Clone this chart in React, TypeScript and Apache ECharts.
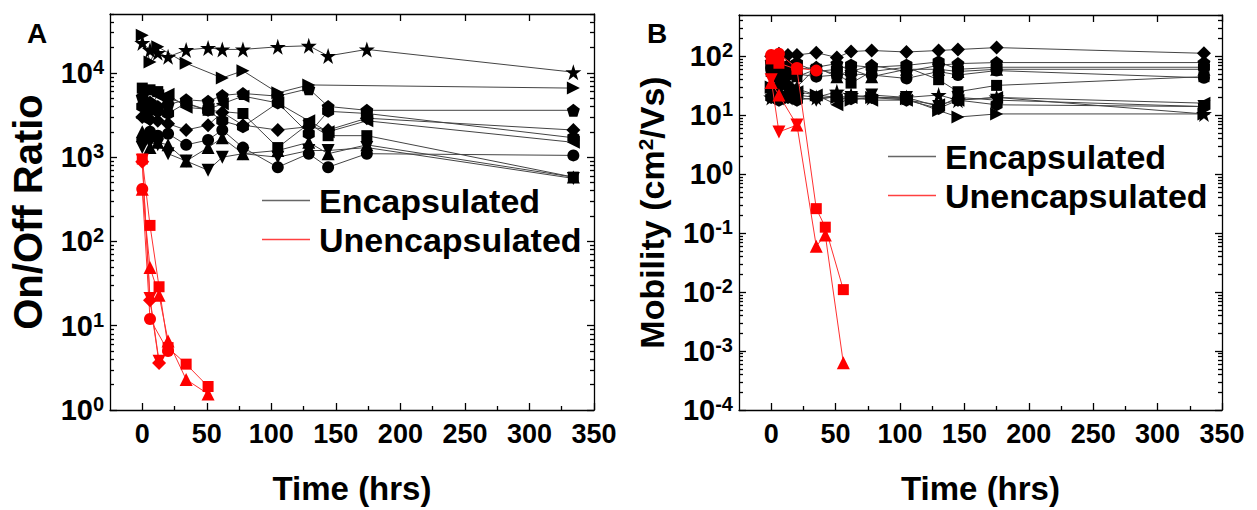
import React, { useEffect, useRef } from 'react';
import * as echarts from 'echarts';

const FONT = '"Liberation Sans", Arial, sans-serif';

// ---------- Panel A : On/Off ratio ----------
const timesEncA = [0, 6, 12, 20, 34, 51, 62, 78, 105, 129, 144, 174, 334];
const encA_star = [22700, 18700, 17300, 15500, 18700, 19800, 19000, 19000, 20400, 21000, 15900, 19000, 10200];
const encA_triRight = [28000, 13500, 20400, null, 13000, null, 8700, 10600, 5800, 7200, null, null, 6600];
const encA_square = [6600, 6300, 6000, 5000, null, 3600, null, 3300, 1300, 2500, 1800, 1800, 580];
const encA_pentagon = [5200, 4500, 4000, 4200, 4800, 4600, 5400, 5700, 5300, 6500, 4000, 3600, 3600];
const encA_diamond = [3000, 2800, 2700, 2500, 2100, 2400, 3400, 2400, 2100, 2300, 2100, 2900, 2100];
const encA_hexagon = [4000, 3600, 3500, 3300, 4400, 3600, 2700, 2300, 4400, 1900, 3500, 3300, 1700];
const encA_circle = [1600, 2000, 1800, 1900, 1400, 1600, 2100, 1300, 760, 1100, 760, 1100, 1050];
const encA_triUp = [2000, 1300, 1500, 1400, 900, 1300, 1700, 1100, 1200, 1500, 1100, 1400, 580];
const encA_triDown = [1300, 1500, 1400, 1100, 900, 700, 1000, 1100, 1000, 1200, 1200, 1300, 560];
const encA_triLeft = [2900, 4000, 5400, 5600, 3900, 3700, 4300, 5300, 4400, 2700, 2000, 2700, 1500];

const timesUnA = [0, 6, 13, 20, 34, 51];
const unA_square = [950, 155, 29, 5.5, 3.5, 1.9];
const unA_triUp = [415, 49, 23, 6.6, 2.3, 1.55];
const unA_triDown = [920, 21, 3.8, null, null, null];
const unA_circle = [420, 12, null, 5, null, null];
const unA_diamond = [880, 20, 3.6, null, null, null];

// ---------- Panel B : Mobility ----------
const timesEncB = [0, 6, 13, 20, 35, 51, 62, 78, 105, 130, 145, 175, 336];
const encB_diamond = [100, 110, 105, 105, 115, 95, 120, 125, 118, 125, 130, 140, 112];
const encB_square = [55, 45, 50, 45, 60, 50, 35, 55, 65, 40, 25, 32, 45];
const encB_hexagon = [70, 65, 60, 75, 55, 60, 70, 65, 70, 80, 60, 65, 65];
const encB_pentagon = [80, 75, 70, 60, 65, 75, 55, 70, 55, 70, 75, 78, 78];
const encB_circle = [60, 55, 48, 50, 45, 48, 50, 48, 42, 55, 48, 57, 43];
const encB_triUp = [30, 40, 35, 30, 65, 45, 60, 45, 60, 60, 55, 60, 60];
const encB_star = [20, 22, 20, 22, 20, 25, 22, 20, 20, 22, 18, 20, 10.5];
const encB_triLeft = [25, 20, 22, 25, 22, 15, 20, 18, 18, 15, 18, 20, 16];
const encB_triDown = [22, 25, 24, 20, 18, 21, 20, 22, 20, 14, 20, 18, 14];
const encB_triRight = [30, 25, 35, 28, 22, 20, 18, 20, 19, 12, 9.3, 10.5, 10.5];
const encB_hexLow = [20, 18, 20, 18, 20, 20, 19, 20, 18, 13, 18, 15, 14];

const timesUnB = [0, 6, 20, 35, 42, 56];
const unB_square = [90, 76, 60, 0.26, 0.126, 0.011];
const unB_triUp = [36, 22, 6.8, 0.06, 0.093, 0.00063];
const unB_triDown = [40, 5.2, 6.8, null, null, null];
const unB_circle = [105, 110, 63, 57, null, null];

const xMajor = [0, 50, 100, 150, 200, 250, 300, 350];
const xMinor = [25, 75, 125, 175, 225, 275, 325];

const STAR = 'path://M0,-10 L2.245,-3.09 L9.51,-3.09 L3.633,1.18 L5.88,8.09 L0,3.82 L-5.88,8.09 L-3.633,1.18 L-9.51,-3.09 L-2.245,-3.09 Z';
const PENT = 'path://M0,-10 L9.51,-3.09 L5.88,8.09 L-5.88,8.09 L-9.51,-3.09 Z';
const HEX = 'path://M0,-10 L8.66,-5 L8.66,5 L0,10 L-8.66,5 L-8.66,-5 Z';

const SHAPES: Record<string, { symbol: string; rotate: number; size: number | number[] }> = {
  star: { symbol: STAR, rotate: 0, size: 16 },
  pentagon: { symbol: PENT, rotate: 0, size: 13 },
  hexagon: { symbol: HEX, rotate: 0, size: [12, 13] },
  square: { symbol: 'rect', rotate: 0, size: 11 },
  circle: { symbol: 'circle', rotate: 0, size: 12 },
  diamond: { symbol: 'diamond', rotate: 0, size: 14 },
  triUp: { symbol: 'triangle', rotate: 0, size: 13 },
  triDown: { symbol: 'triangle', rotate: 180, size: 13 },
  triLeft: { symbol: 'triangle', rotate: 90, size: 13 },
  triRight: { symbol: 'triangle', rotate: -90, size: 13 },
};

function majors(lo: number, hi: number) {
  const out: number[] = [];
  for (let e = lo; e <= hi; e++) out.push(Math.pow(10, e));
  return out;
}
function minors(lo: number, hi: number, max: number) {
  const out: number[] = [];
  for (let e = lo; e <= hi; e++) {
    for (let k = 2; k <= 9; k++) {
      const v = k * Math.pow(10, e);
      if (v <= max * 1.0001) out.push(v);
    }
  }
  return out;
}

const labelRich = {
  base: { fontSize: 29, fontWeight: 'bold', fontFamily: FONT, color: '#000', lineHeight: 32 },
  sup: { fontSize: 20, fontWeight: 'bold', fontFamily: FONT, color: '#000', verticalAlign: 'top', lineHeight: 21 },
};

function series(name: string, times: number[], vals: (number | null)[], shape: string, color: string, lineColor: string, xi: number, yi: number) {
  const sh = SHAPES[shape];
  const data = times.map((t, i) => [t, vals[i]]).filter((d) => d[1] !== null);
  return {
    type: 'line',
    name,
    xAxisIndex: xi,
    yAxisIndex: yi,
    data,
    symbol: sh.symbol,
    symbolRotate: sh.rotate,
    symbolSize: sh.size,
    showSymbol: true,
    lineStyle: { color: lineColor, width: 1 },
    itemStyle: { color, borderWidth: 0 },
    emphasis: { disabled: true },
    silent: true,
    z: color === '#000' ? 2 : 3,
  };
}

const AX_LINE = { show: true, onZero: false, lineStyle: { color: '#000', width: 1.3 } };
const NO_LINE = { show: false, onZero: false };
const TICK_STYLE = { color: '#000', width: 1.3 };

function xAxes(gi: number, title: string) {
  const base = { type: 'value', gridIndex: gi, min: -25, max: 350, splitLine: { show: false } };
  return [
    {
      ...base,
      position: 'bottom',
      axisLine: AX_LINE,
      axisTick: { show: true, inside: true, length: 7, customValues: xMajor, lineStyle: TICK_STYLE },
      axisLabel: { show: true, customValues: xMajor, margin: 10, fontSize: 27, fontWeight: 'bold', fontFamily: FONT, color: '#000' },
      name: title,
      nameLocation: 'middle',
      nameGap: 62,
      nameTextStyle: { fontSize: 33, fontWeight: 'bold', fontFamily: FONT, color: '#000' },
    },
    {
      ...base,
      position: 'bottom',
      axisLine: NO_LINE,
      axisTick: { show: true, inside: true, length: 4, customValues: xMinor, lineStyle: TICK_STYLE },
      axisLabel: { show: false },
    },
    {
      ...base,
      position: 'top',
      axisLine: AX_LINE,
      axisTick: { show: true, inside: true, length: 7, customValues: xMajor, lineStyle: TICK_STYLE },
      axisLabel: { show: false },
    },
  ];
}

function yAxes(gi: number, min: number, max: number, eLo: number, eHi: number, name: string, nameGap: number, nameSize: number, nameRich: any) {
  const maj = majors(eLo, eHi);
  const mino = minors(eLo, eHi, max);
  const base = { type: 'log', logBase: 10, gridIndex: gi, min, max, splitLine: { show: false } };
  return [
    {
      ...base,
      position: 'left',
      axisLine: AX_LINE,
      axisTick: { show: true, inside: true, length: 7, customValues: maj, lineStyle: TICK_STYLE },
      axisLabel: {
        show: true,
        customValues: maj,
        margin: 6,
        fontSize: 29,
        fontWeight: 'bold',
        fontFamily: FONT,
        color: '#000',
        formatter: (v: number) => `{base|10}{sup|${Math.round(Math.log10(v))}}`,
        rich: labelRich,
      },
      name,
      nameLocation: 'middle',
      nameGap,
      nameTextStyle: { fontSize: nameSize, fontWeight: 'bold', fontFamily: FONT, color: '#000', rich: nameRich },
    },
    {
      ...base,
      position: 'left',
      axisLine: NO_LINE,
      axisTick: { show: true, inside: true, length: 4, customValues: mino, lineStyle: TICK_STYLE },
      axisLabel: { show: false },
    },
    {
      ...base,
      position: 'right',
      axisLine: AX_LINE,
      axisTick: { show: true, inside: true, length: 7, customValues: maj, lineStyle: TICK_STYLE },
      axisLabel: { show: false },
    },
    {
      ...base,
      position: 'right',
      axisLine: NO_LINE,
      axisTick: { show: true, inside: true, length: 4, customValues: mino, lineStyle: TICK_STYLE },
      axisLabel: { show: false },
    },
  ];
}

const ENC = 'Encapsulated';
const UNENC = 'Unencapsulated';
const BLACK = '#000';
const BLINE = '#444';
const RED = '#ff0000';
const RLINE = '#ff3030';

export default function App() {
  const ref = useRef<HTMLDivElement>(null);
  useEffect(() => {
    if (!ref.current) return;
    const chart = echarts.init(ref.current, undefined, { renderer: 'svg' });
    const titleRich = {
      t: { fontSize: 34, fontWeight: 'bold', fontFamily: FONT, color: '#000' },
      s: { fontSize: 21, fontWeight: 'bold', fontFamily: FONT, color: '#000', verticalAlign: 'top' },
    };
    const seriesList: any[] = [
      series(ENC, timesEncA, encA_star, 'star', BLACK, BLINE, 0, 0),
      series(ENC, timesEncA, encA_triRight, 'triRight', BLACK, BLINE, 0, 0),
      series(ENC, timesEncA, encA_square, 'square', BLACK, BLINE, 0, 0),
      series(ENC, timesEncA, encA_pentagon, 'pentagon', BLACK, BLINE, 0, 0),
      series(ENC, timesEncA, encA_diamond, 'diamond', BLACK, BLINE, 0, 0),
      series(ENC, timesEncA, encA_hexagon, 'hexagon', BLACK, BLINE, 0, 0),
      series(ENC, timesEncA, encA_circle, 'circle', BLACK, BLINE, 0, 0),
      series(ENC, timesEncA, encA_triUp, 'triUp', BLACK, BLINE, 0, 0),
      series(ENC, timesEncA, encA_triDown, 'triDown', BLACK, BLINE, 0, 0),
      series(ENC, timesEncA, encA_triLeft, 'triLeft', BLACK, BLINE, 0, 0),
      series(UNENC, timesUnA, unA_square, 'square', RED, RLINE, 0, 0),
      series(UNENC, timesUnA, unA_triUp, 'triUp', RED, RLINE, 0, 0),
      series(UNENC, timesUnA, unA_triDown, 'triDown', RED, RLINE, 0, 0),
      series(UNENC, timesUnA, unA_circle, 'circle', RED, RLINE, 0, 0),
      series(UNENC, timesUnA, unA_diamond, 'diamond', RED, RLINE, 0, 0),

      series(ENC, timesEncB, encB_diamond, 'diamond', BLACK, BLINE, 3, 4),
      series(ENC, timesEncB, encB_square, 'square', BLACK, BLINE, 3, 4),
      series(ENC, timesEncB, encB_hexagon, 'hexagon', BLACK, BLINE, 3, 4),
      series(ENC, timesEncB, encB_pentagon, 'pentagon', BLACK, BLINE, 3, 4),
      series(ENC, timesEncB, encB_circle, 'circle', BLACK, BLINE, 3, 4),
      series(ENC, timesEncB, encB_triUp, 'triUp', BLACK, BLINE, 3, 4),
      series(ENC, timesEncB, encB_star, 'star', BLACK, BLINE, 3, 4),
      series(ENC, timesEncB, encB_triLeft, 'triLeft', BLACK, BLINE, 3, 4),
      series(ENC, timesEncB, encB_triDown, 'triDown', BLACK, BLINE, 3, 4),
      series(ENC, timesEncB, encB_triRight, 'triRight', BLACK, BLINE, 3, 4),
      series(ENC, timesEncB, encB_hexLow, 'hexagon', BLACK, BLINE, 3, 4),
      series(UNENC, timesUnB, unB_square, 'square', RED, RLINE, 3, 4),
      series(UNENC, timesUnB, unB_triUp, 'triUp', RED, RLINE, 3, 4),
      series(UNENC, timesUnB, unB_triDown, 'triDown', RED, RLINE, 3, 4),
      series(UNENC, timesUnB, unB_circle, 'circle', RED, RLINE, 3, 4),
    ];
    const legendCommon = {
      orient: 'vertical',
      padding: 0,
      itemWidth: 48,
      itemHeight: 1.5,
      itemGap: 0,
      icon: 'rect',
      selectedMode: false,
      textStyle: { fontSize: 34, fontWeight: 'bold', fontFamily: FONT, color: '#000', lineHeight: 39, padding: [0, 0, 0, 4] },
      data: [
        { name: ENC, itemStyle: { color: '#666' } },
        { name: UNENC, itemStyle: { color: '#ff4040' } },
      ],
    };
    chart.setOption({
      animation: false,
      grid: [
        { left: 110, top: 14, width: 484, height: 396, outerBoundsMode: 'none', containLabel: false },
        { left: 739, top: 15, width: 483, height: 395, outerBoundsMode: 'none', containLabel: false },
      ],
      xAxis: [...xAxes(0, 'Time (hrs)'), ...xAxes(1, 'Time (hrs)')],
      yAxis: [
        ...yAxes(0, 1, 50000, 0, 4, 'On/Off Ratio', 62, 40, undefined),
        ...yAxes(1, 0.0001, 500, -4, 2, '{t|Mobility (cm}{s|2}{t|/Vs)}', 70, 34, titleRich),
      ],
      legend: [
        { ...legendCommon, left: 262, top: 181 },
        { ...legendCommon, left: 888, top: 137 },
      ],
      graphic: [
        { type: 'text', left: 27, top: 19, style: { text: 'A', font: `bold 28px ${FONT}`, fill: '#000' } },
        { type: 'text', left: 647, top: 19, style: { text: 'B', font: `bold 28px ${FONT}`, fill: '#000' } },
      ],
      series: seriesList,
    });
    return () => chart.dispose();
  }, []);
  return <div ref={ref} style={{ position: 'absolute', left: 0, top: 0, width: 1257, height: 510 }} />;
}
